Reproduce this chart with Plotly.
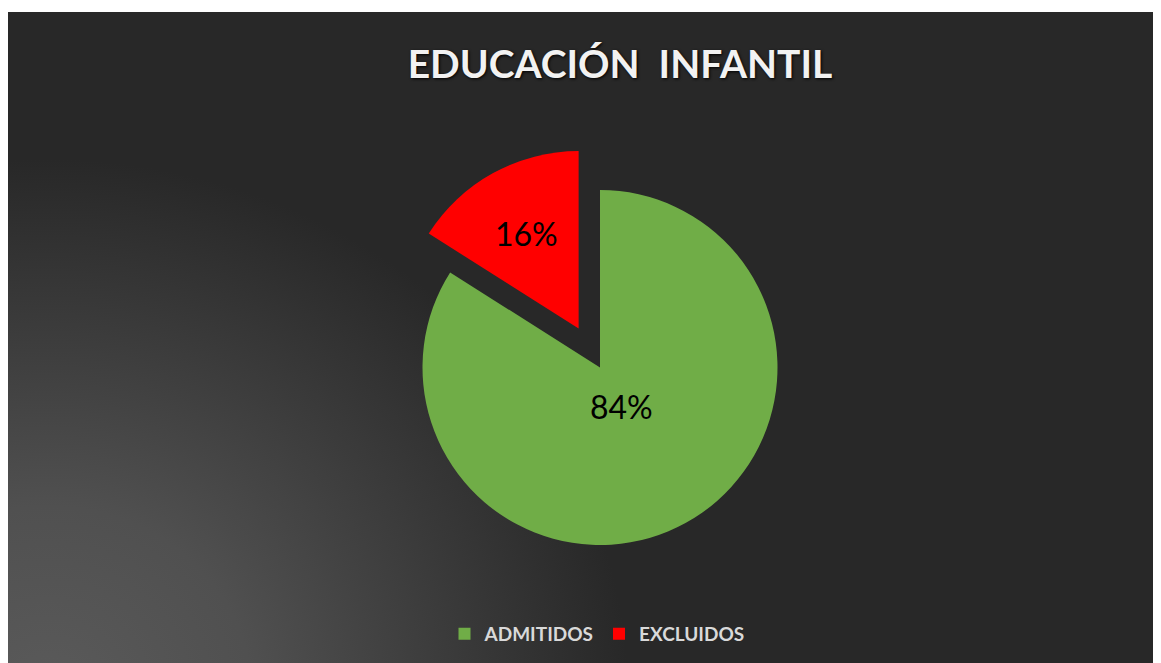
import base64
import math
import plotly.graph_objects as go

categories = ["ADMITIDOS", "EXCLUIDOS"]
values = [84, 16]
colors = ["#70ad47", "#ff0000"]
pulls = [0, 0.25]
label_radius = [0.25, 0.61]   # label distance from slice apex, as fraction of radius

# figure is drawn inside the page's 8px body margin
W, H = 1153, 655
bx0, by0 = 0, 4
bw, bh = W - bx0, H - by0

svg = f'''<svg xmlns="http://www.w3.org/2000/svg" width="{bw}" height="{bh}" viewBox="0 0 {bw} {bh}" preserveAspectRatio="none">
<defs><radialGradient id="g" gradientUnits="userSpaceOnUse" cx="40" cy="{bh+30}" r="580" gradientTransform="translate(40 {bh+30}) scale(1 0.92) translate(-40 -{bh+30})">
<stop offset="0" stop-color="#5a5a5a"/><stop offset="0.35" stop-color="#505050"/><stop offset="1" stop-color="#282828"/></radialGradient></defs>
<rect x="0" y="0" width="{bw}" height="{bh}" fill="#282828"/>
<rect x="0" y="0" width="{bw}" height="{bh}" fill="url(#g)"/>
</svg>'''
src = "data:image/svg+xml;base64," + base64.b64encode(svg.encode()).decode()

cx, cy, r = 592, 359.5, 177.5
half = r * (1 + max(pulls))
dom_y = [1 - (cy + half) / H, 1 - (cy - half) / H]
dom_x = [cx / W - 0.25, cx / W + 0.25]

fig = go.Figure(go.Pie(
    labels=categories,
    values=values,
    marker=dict(colors=colors, line=dict(width=0)),
    pull=pulls,
    sort=False,
    direction="clockwise",
    rotation=0,
    textinfo="none",
    domain=dict(x=dom_x, y=dom_y),
    hoverinfo="label+percent",
))

# data labels placed along each slice's mid-angle (derived from the values)
total = sum(values)
annotations = []
start = 0.0
for v, p, k in zip(values, pulls, label_radius):
    ang = 360.0 * v / total
    mid = math.radians(start + ang / 2)
    d = (p + k) * r
    px = cx + d * math.sin(mid)
    py = cy - d * math.cos(mid)
    annotations.append(dict(
        text=f"{round(100 * v / total)}%",
        x=px / W, y=1 - py / H, xref="paper", yref="paper",
        xanchor="center", yanchor="middle", showarrow=False,
        font=dict(family="Lato", size=32, color="#000000"),
    ))
    start += ang

fig.update_layout(
    width=W, height=H,
    margin=dict(l=0, r=0, t=0, b=0),
    paper_bgcolor="#ffffff",
    title=dict(
        text="EDUCACIÓN  INFANTIL",
        x=612 / W, xanchor="center",
        y=1 - 56 / H, yanchor="middle",
        font=dict(family="Lato", size=39, color="#f2f2f2", weight="bold",
                  shadow="1px 1px 3px #000000"),
    ),
    legend=dict(
        orientation="h",
        x=589 / W, xanchor="center",
        y=1 - 626 / H, yanchor="middle",
        font=dict(family="Lato", size=19, color="#d9d9d9", weight="bold"),
        bgcolor="rgba(0,0,0,0)",
        itemwidth=30,
    ),
    annotations=annotations,
    images=[dict(
        source=src, xref="paper", yref="paper",
        x=bx0 / W, y=1 - by0 / H, sizex=bw / W, sizey=bh / H,
        xanchor="left", yanchor="top", sizing="stretch", layer="below",
    )],
)

fig.write_html("out.html")
